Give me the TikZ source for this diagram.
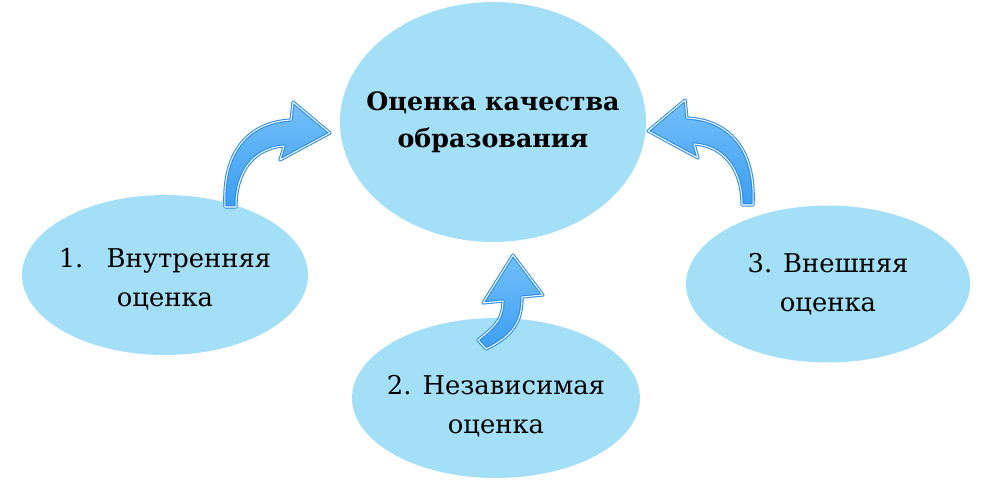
\documentclass[tikz,border=0pt]{standalone}
\usepackage{fontspec}
\setmainfont{DejaVu Serif}
\newfontfamily\timesru{DejaVu Serif}
\usetikzlibrary{shapes.geometric}

\definecolor{bubble}{RGB}{163,224,247}
\definecolor{arrowdark}{RGB}{40,140,232}
\definecolor{arrowmid}{RGB}{60,158,242}
\definecolor{arrowlight}{RGB}{115,192,250}

\begin{document}
\begin{tikzpicture}[
      x=0.02cm, y=-0.02cm,
      bubble/.style={ellipse, fill=bubble, inner sep=0pt},
      caption/.style={align=center, inner sep=0pt, font=\timesru\fontsize{14.7}{22}\selectfont},
      title/.style={caption, font=\timesru\bfseries\fontsize{14.4}{21}\selectfont},
      arrowfill/.style={draw=arrowdark, double=white, double distance=0.6pt,
        line width=0.6pt, line join=round, top color=arrowlight, bottom color=arrowmid},
      curlarrow/.pic={
        \path[arrowfill] (-5,0) .. controls (-8,-57) and (20,-85) .. (61,-87)
          -- (63,-105) -- (100,-74) -- (50,-47) -- (54,-61)
          .. controls (25,-59) and (6,-37) .. (6,0) -- cycle;
      },
      risearrow/.pic={
        \path[arrowfill] (21,-44) .. controls (21,-23) and (8,-15) .. (-4,-5)
          -- (4,4) .. controls (33,-10) and (40,-25) .. (40,-48)
          -- (61,-50) -- (31,-90) -- (1,-42) -- cycle;
      }
    ]
    \useasboundingbox (0,0) rectangle (993,485);
    \node[bubble, minimum width=6.12cm, minimum height=4.8cm,
      label={[title]center:{Оценка качества\\образования}}] (quality) at (493,122) {};
    \node[bubble, minimum width=5.72cm, minimum height=3.2cm,
      label={[caption, yshift=-0.08cm]center:{1.\hspace{0.9em}Внутренняя\\оценка}}] (inner) at (165,275) {};
    \node[bubble, minimum width=5.76cm, minimum height=3.2cm,
      label={[caption, yshift=-0.16cm]center:{2. Независимая\\оценка}}] (indep) at (496,398) {};
    \node[bubble, minimum width=5.68cm, minimum height=3.14cm,
      label={[caption]center:{3. Внешняя\\оценка}}] (outer) at (828,284) {};
    \coordinate (t1) at (230,207);
    \coordinate (t2) at (482,345);
    \coordinate (t3) at (748,205);
    \pic at (t1) {curlarrow};
    \pic at (t2) {risearrow};
    \pic[xscale=-1] at (t3) {curlarrow};
    \end{tikzpicture}
\end{document}
